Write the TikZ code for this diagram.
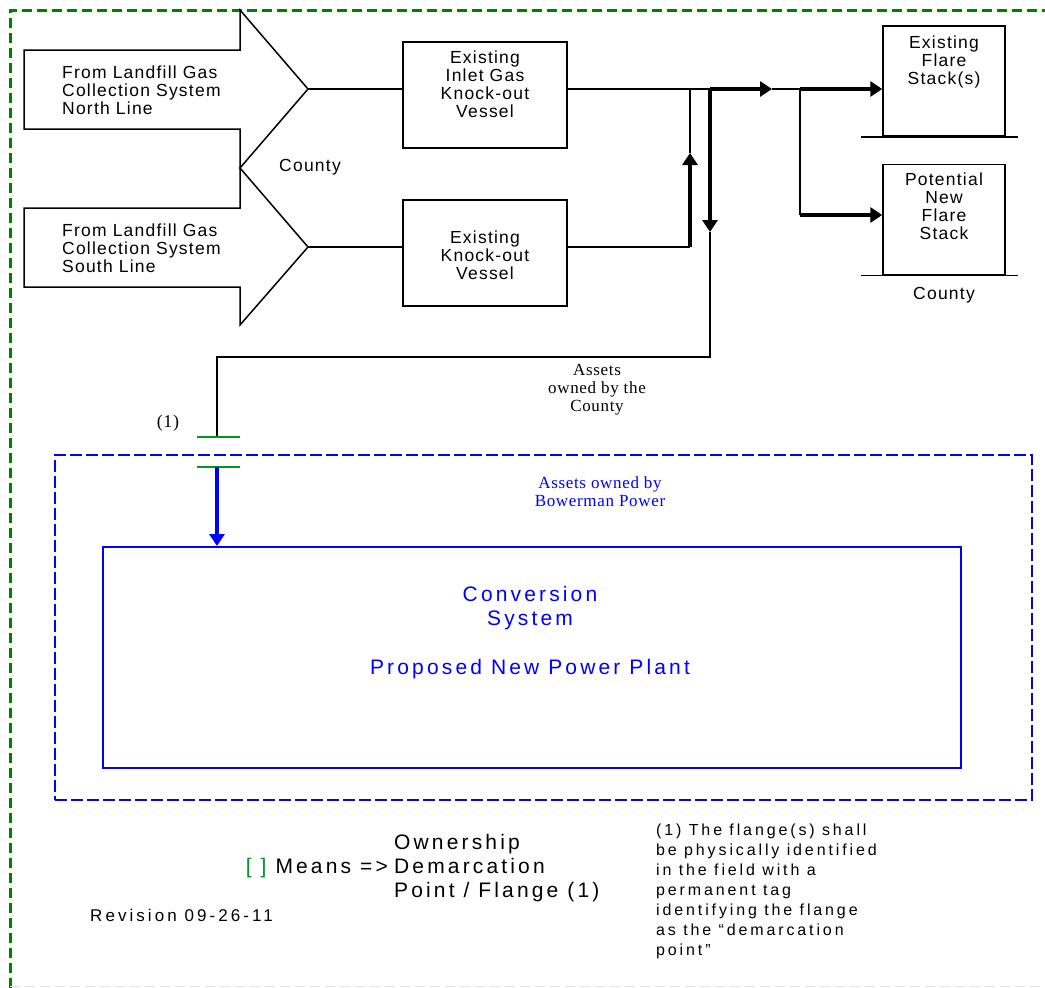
\documentclass[tikz,border=0pt]{standalone}
\usepackage{fontspec}
\setmainfont{Liberation Serif}
\newfontfamily\arialfont[LetterSpace=7]{Liberation Sans}
\newfontfamily\widefont[LetterSpace=15]{Liberation Sans}
\newfontfamily\notefont[LetterSpace=18]{Liberation Sans}
\newfontfamily\timesfont[LetterSpace=4]{Liberation Serif}
\usetikzlibrary{positioning,arrows.meta}
\definecolor{bordergreen}{RGB}{0,128,0}
\definecolor{flangegreen}{RGB}{0,150,40}
\definecolor{ownblue}{RGB}{0,0,255}

\tikzset{
  vessel/.style={draw, line width=1.5pt, minimum width=164pt, minimum height=106pt, inner sep=0pt},
  stackbox/.style={draw, line width=1.5pt, minimum width=122pt, minimum height=110pt, inner sep=0pt},
  lbl/.style={font={\arialfont\fontsize{17.5}{18}\selectfont}, align=center, inner sep=0pt},
  bluelbl/.style={font={\widefont\fontsize{21}{24}\selectfont}, text=ownblue, align=center, inner sep=0pt},
  serif/.style={font={\timesfont\fontsize{17}{18}\selectfont}, align=center, inner sep=0pt},
  pipe/.style={line width=1.5pt},
  flow/.style={line width=3.5pt, -{Triangle[length=12pt,width=15pt]}},
  flange/.style={flangegreen, line width=1.5pt},
}

\begin{document}
\begin{tikzpicture}[x=1pt, y=-1pt]
    \useasboundingbox (0,0) rectangle (1045,988);

    % outer border
    \draw[bordergreen, line width=3pt, dash pattern=on 10pt off 5pt] (10,988) -- (10,10) -- (1045,10);
    \draw[gray!20, line width=1pt, dash pattern=on 10pt off 5pt] (10,986) -- (1045,986);

    % incoming lines
    \draw[pipe] (24,50) -- (240,50) -- (240,10) -- (308,89) -- (240,168) -- (240,129) -- (24,129) -- cycle;
    \draw[pipe] (24,208) -- (240,208) -- (240,168) -- (308,247) -- (240,325) -- (240,287) -- (24,287) -- cycle;
    \coordinate (ntip) at (308,89);
    \coordinate (stip) at (308,247);
    \node[lbl, align=left, anchor=west] (northline) at (62,90) {From Landfill Gas\\Collection System\\North Line};
    \node[lbl, align=left, anchor=west] (southline) at (62,248) {From Landfill Gas\\Collection System\\South Line};
    \node[lbl] (countyleft) at (310,167) {County};

    % knock-out vessels
    \node[vessel] (inletko) at (485,95) {};
    \node[lbl, below=9pt of inletko.north] (inletkotext) {Existing\\Inlet Gas\\Knock-out\\Vessel};
    \node[vessel] (ko) at (485,253) {};
    \node[lbl] (kotext) at ([yshift=-2pt]ko.center) {Existing\\Knock-out\\Vessel};

    % flare stacks
    \node[stackbox] (flare) at (944,81) {};
    \node[lbl, below=10pt of flare.north] (flaretext) {Existing\\Flare\\Stack(s)};
    \draw[pipe] ([xshift=-21pt]flare.south west) -- ([xshift=12pt]flare.south east);
    \node[stackbox] (newflare) at (944,219.5) {};
    \node[lbl, below=9pt of newflare.north] (newflaretext) {Potential\\New\\Flare\\Stack};
    \draw[pipe] ([xshift=-21pt]newflare.south west) -- ([xshift=12pt]newflare.south east);
    \node[lbl, below=12pt of newflare.south] (countyright) {County};

    % piping
    \coordinate (jup) at (690,89);
    \coordinate (jdown) at (710,89);
    \coordinate (midarr) at (772,89);
    \coordinate (jbr) at (800,89);
    \coordinate (jnew) at (800,215);
    \coordinate (jlow) at (690,247);
    \coordinate (uptip) at (690,153);
    \coordinate (dntip) at (710,232);
    \coordinate (ret) at (710,357);
    \coordinate (corner) at (217,357);
    \coordinate (flangeup) at (217,437);
    \coordinate (flangedown) at (217,467);

    \draw[pipe] (ntip) -- (ntip -| inletko.west);
    \draw[pipe] (stip) -- (stip -| ko.west);
    \draw[pipe] (inletko.east |- ntip) -- (jdown);
    \draw[flow] (jdown) -- (midarr);
    \draw[pipe] (midarr) -- (jbr);
    \draw[flow] (jbr) -- (jbr -| flare.west);
    \draw[pipe] (jbr) -- (jnew);
    \draw[flow] (jnew) -- (jnew -| newflare.west);
    \draw[pipe] (ko.east |- stip) -- (jlow);
    \draw[flow] (jlow) -- (uptip);
    \draw[pipe] (uptip) -- (jup);
    \draw[flow] (jdown) -- (dntip);
    \draw[pipe] (dntip) -- (ret) -- (corner) -- (flangeup);

    \node[serif] (countyassets) at (597,390) {Assets\\owned by the\\County};
    \node[serif, font={\timesfont\fontsize{18}{18}\selectfont}] (flangeref) at (168,423) {(1)};

    % demarcation flange
    \draw[flange] ([xshift=-20pt]flangeup) -- ([xshift=23pt]flangeup);
    \draw[flange] ([xshift=-20pt]flangedown) -- ([xshift=23pt]flangedown);

    % power plant
    \node[draw=ownblue, line width=2.5pt, dash pattern=on 12pt off 4pt, minimum width=977pt, minimum height=345pt, inner sep=0pt] (bowerman) at (543.5,627.5) {};
    \node[serif, text=ownblue] (bowermanassets) at (600,492) {Assets owned by\\Bowerman Power};
    \node[draw=ownblue, line width=2pt, minimum width=858pt, minimum height=221pt, inner sep=0pt] (plant) at (532,657.5) {};
    \node[bluelbl] (conversion) at (530,608) {Conversion\\System};
    \node[bluelbl] (newplant) at (530,669) {Proposed New Power Plant};
    \draw[flow, ownblue] (flangedown) -- (flangedown |- plant.north);

    % legend
    \node[font={\widefont\fontsize{21}{24}\selectfont}, anchor=east, inner sep=0pt] (means) at (388,868) {{\color{flangegreen}[ ]} Means =>};
    \node[font={\widefont\fontsize{21}{24}\selectfont}, align=left, anchor=west, inner sep=0pt] (demarc) at (394,868) {Ownership\\Demarcation\\Point / Flange (1)};
    \node[font={\notefont\fontsize{17}{20}\selectfont}, anchor=west, inner sep=0pt] (revision) at (90,915) {Revision 09-26-11};
    \node[font={\notefont\fontsize{16}{20}\selectfont}, align=left, anchor=north west, inner sep=0pt] (note) at (656,824) {(1) The flange(s) shall\\be physically identified\\in the field with a\\permanent tag\\identifying the flange\\as the “demarcation\\point”};
\end{tikzpicture}
\end{document}
